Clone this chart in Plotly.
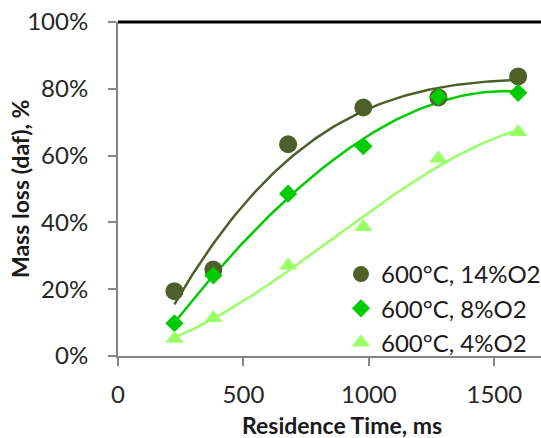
import numpy as np
import plotly.graph_objects as go

time_ms = [225, 380, 678, 978, 1277, 1595]
loss_14 = [0.194, 0.259, 0.634, 0.744, 0.774, 0.837]
loss_8 = [0.098, 0.241, 0.486, 0.628, 0.776, 0.788]
loss_4 = [0.052, 0.114, 0.271, 0.386, 0.591, 0.671]

names = ["600°C, 14%O2", "600°C, 8%O2", "600°C, 4%O2"]
colors = ["#4F5F2A", "#00CC00", "#99FF66"]
symbols = ["circle", "diamond", "triangle-up"]
sizes = [18, 14, 16]

FONT = "Lato, 'Liberation Sans', sans-serif"

fig = go.Figure()
series = [loss_14, loss_8, loss_4]
for ys, name, c in zip(series, names, colors):
    coef = np.polyfit(time_ms, ys, 3)
    xs = np.linspace(min(time_ms), max(time_ms), 120)
    fig.add_trace(go.Scatter(x=xs, y=np.polyval(coef, xs), mode="lines",
                             line=dict(color=c, width=2.5), showlegend=False,
                             hoverinfo="skip"))
for ys, name, c, s, sz in zip(series, names, colors, symbols, sizes):
    fig.add_trace(go.Scatter(x=time_ms, y=ys, mode="markers", name=name,
                             marker=dict(color=c, symbol=s, size=sz)))

axis_col = "#868686"
fig.update_layout(
    width=541, height=438,
    margin=dict(l=118, r=0, t=22, b=82, autoexpand=False),
    plot_bgcolor="white", paper_bgcolor="white",
    font=dict(family=FONT, size=24, color="#262626"),
    showlegend=True,
    legend=dict(x=(341 - 118) / 423, y=(356 - 252) / 334, xanchor="left", yanchor="top",
                bgcolor="rgba(0,0,0,0)", font=dict(size=24, color="#1a1a1a"),
                itemsizing="trace", tracegroupgap=0),
    xaxis=dict(range=[0, 1686], tickvals=[0, 500, 1000, 1500], showgrid=False,
               zeroline=False, showline=True, linecolor=axis_col, linewidth=2,
               ticks="outside", ticklen=8, tickcolor=axis_col, tickwidth=2,
               ticklabelstandoff=8, automargin=False),
    yaxis=dict(range=[0, 1], tickvals=[0, 0.2, 0.4, 0.6, 0.8, 1.0], tickformat=".0%",
               showgrid=False, zeroline=False, showline=True, linecolor=axis_col,
               linewidth=2, ticks="outside", ticklen=8, tickcolor=axis_col, tickwidth=2,
               ticklabelstandoff=15, automargin=False),
    shapes=[dict(type="line", xref="paper", yref="paper", x0=0, x1=1, y0=1, y1=1,
                 line=dict(color="black", width=3))],
    annotations=[
        dict(text="<b>Residence Time, ms</b>", xref="paper", yref="paper",
             x=(342 - 118) / 423, y=(356 - 425) / 334, xanchor="center", yanchor="middle",
             showarrow=False, font=dict(size=23, color="#1a1a1a")),
        dict(text="<b>Mass loss (daf), %</b>", xref="paper", yref="paper",
             x=(20 - 118) / 423, y=(356 - 189) / 334, xanchor="center", yanchor="middle",
             textangle=-90, showarrow=False, font=dict(size=23, color="#1a1a1a")),
    ],
)
fig.write_html("out.html", config={"displayModeBar": False},
               post_script="document.body.style.margin='0';")
